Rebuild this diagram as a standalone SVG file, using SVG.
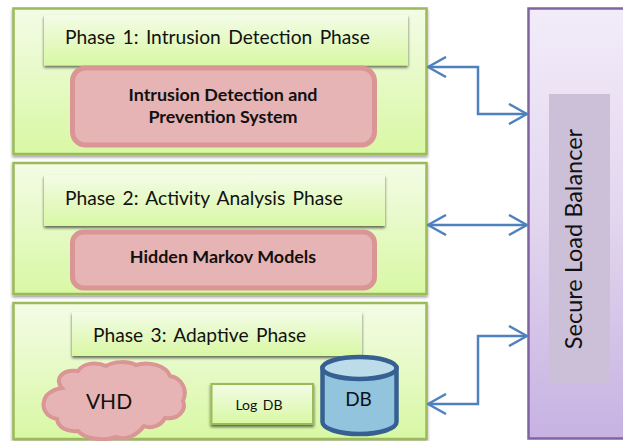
<svg xmlns="http://www.w3.org/2000/svg" width="623" height="441" viewBox="0 0 623 441">
<style>
text{font-family:Lato,"Open Sans",sans-serif;fill:#111;}
.phase{fill:url(#g);stroke:#9BBB59;stroke-width:2.5;filter:url(#s1);}
.head{fill:url(#g);filter:url(#s);}
.red{fill:#E6B4B4;stroke:#D99694;stroke-width:5;}
.h{font-size:19.2px;word-spacing:2.5px;}
.b{font-size:17.9px;font-weight:700;text-anchor:middle;}
.c{fill:none;stroke:#4F81BD;stroke-width:2.5;}
</style>
<defs>
<linearGradient id="g" x1="0" y1="0" x2="0" y2="1"><stop offset="0" stop-color="#F3FCE6"/><stop offset="0.6" stop-color="#E3F9BE"/><stop offset="1" stop-color="#D8F8A4"/></linearGradient>
<linearGradient id="p" x1="0" y1="0" x2="0" y2="1"><stop offset="0" stop-color="#F2ECF9"/><stop offset="0.5" stop-color="#E2D5EE"/><stop offset="1" stop-color="#C7B2E2"/></linearGradient>
<filter id="s" x="-5%" y="-10%" width="110%" height="130%"><feDropShadow dx="0" dy="2" stdDeviation="1.8" flood-color="#000" flood-opacity="0.6"/></filter>
<filter id="s1" x="-3%" y="-5%" width="106%" height="112%"><feDropShadow dx="0" dy="2" stdDeviation="1.5" flood-color="#000" flood-opacity="0.4"/></filter>
<marker id="a" viewBox="0 0 20 22" refX="19" refY="11" markerUnits="userSpaceOnUse" markerWidth="20" markerHeight="22" orient="auto-start-reverse"><path d="M1 1L19 11L1 21" fill="none" stroke="#4F81BD" stroke-width="2.5"/></marker>
</defs>
<g id="phase1">
<rect class="phase" x="13.5" y="8.5" width="413" height="145.5"/>
<rect class="head" x="44" y="15" width="364" height="50.5"/>
<text class="h" x="65" y="44">Phase 1: Intrusion Detection Phase</text>
<rect class="red" x="72.500" y="68" width="302" height="77" rx="13"/>
<text class="b" x="223" y="101">Intrusion Detection and</text>
<text class="b" x="223" y="123">Prevention System</text>
</g>
<g id="phase2">
<rect class="phase" x="13.5" y="163" width="413" height="131"/>
<rect class="head" x="44" y="175" width="341" height="51"/>
<text class="h" x="65" y="205">Phase 2: Activity Analysis Phase</text>
<rect class="red" x="72.500" y="232" width="302" height="56" rx="11"/>
<text class="b" x="223" y="263">Hidden Markov Models</text>
</g>
<g id="phase3">
<rect class="phase" x="13.5" y="303" width="413" height="136"/>
<rect class="head" x="72" y="312" width="290" height="44"/>
<text class="h" x="93" y="342">Phase 3: Adaptive Phase</text>
</g>
<g id="vhd">
<path d="M62 388C54 379 62 369 78 371C84 362 98 362 106 366C114 361 128 361 136 365C148 361 166 365 170 376C182 378 188 390 183 401C187 411 177 420 165 418C161 426 150 429 144 426C138 434 127 441 116 437C102 442 84 438 78 431C66 432 58 427 57 419C46 417 42 408 44 402C44 395 53 389 62 388Z" fill="#E6B4B4" stroke="#D99694" stroke-width="4"/>
<text x="109" y="409" font-size="21" text-anchor="middle">VHD</text>
</g>
<g id="logdb">
<rect class="head" x="211.500" y="384" width="101.500" height="40" stroke="#9BBB59" stroke-width="2"/>
<text x="259" y="410" font-size="14" text-anchor="middle" word-spacing="2">Log DB</text>
</g>
<g id="db">
<path d="M322.500 368V422A37 12 0 0 0 396.500 422V368Z" fill="#92C4DD" stroke="#376092" stroke-width="4.500"/>
<ellipse cx="359.500" cy="368" rx="37" ry="11" fill="#BCDCEA" stroke="#376092" stroke-width="4.500"/>
<text x="358.500" y="406" font-size="19" text-anchor="middle">DB</text>
</g>
<g id="balancer">
<rect x="528.500" y="8.500" width="110" height="430" fill="url(#p)" stroke="#8064A2" stroke-width="2.500"/>
<rect x="549" y="94" width="61" height="289" fill="#CBC0D8"/>
<text transform="translate(582 239) rotate(-90)" font-size="23.500" text-anchor="middle">Secure Load Balancer</text>
</g>
<g id="connectors">
<path class="c" d="M428 67H478V114H527" marker-start="url(#a)" marker-end="url(#a)"/>
<path class="c" d="M428 225H527" marker-start="url(#a)" marker-end="url(#a)"/>
<path class="c" d="M527 336H478V404H428" marker-start="url(#a)" marker-end="url(#a)"/>
</g>
</svg>
